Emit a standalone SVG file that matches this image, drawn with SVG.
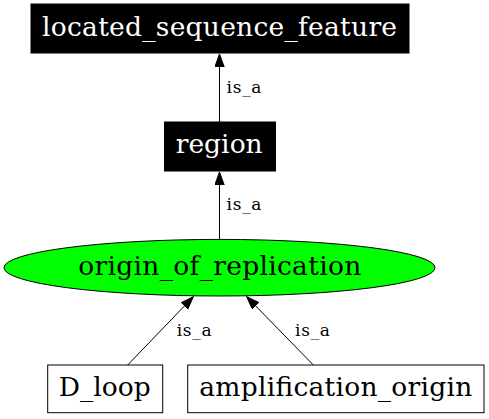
<svg xmlns="http://www.w3.org/2000/svg" width="489" height="419" viewBox="0 0 489 419">
<style>
.node text{font-family:"DejaVu Serif","Liberation Serif",serif;font-size:26.5px;}
.dark rect{fill:#000;stroke:#000;}
.dark text{fill:#fff;}
.light rect{fill:#fff;stroke:#000;}
.edges line{stroke:#000;stroke-width:1;}
.edges text{font-family:"DejaVu Serif","Liberation Serif",serif;font-size:17px;fill:#000;}
</style>
<defs>
<marker id="arr" markerUnits="userSpaceOnUse" markerWidth="14" markerHeight="11" refX="13" refY="4.7" orient="auto">
<path d="M0,0 L13,4.7 L0,9.4 Z" fill="#000" stroke="#000" stroke-width="1"/>
</marker>
</defs>
<rect width="489" height="419" fill="#fff"/>
<g class="edges">
<line x1="219.5" y1="122" x2="219.5" y2="54" marker-end="url(#arr)"/>
<text x="226.5" y="93" textLength="35" lengthAdjust="spacing">is_a</text>
<line x1="219.5" y1="240" x2="219.5" y2="172" marker-end="url(#arr)"/>
<text x="226.5" y="210" textLength="35" lengthAdjust="spacing">is_a</text>
<line x1="127.7" y1="365" x2="193.3" y2="296.7" marker-end="url(#arr)"/>
<text x="176.7" y="336" textLength="35" lengthAdjust="spacing">is_a</text>
<line x1="313.3" y1="365" x2="246.7" y2="296.7" marker-end="url(#arr)"/>
<text x="295" y="336" textLength="35" lengthAdjust="spacing">is_a</text>
</g>
<g id="located_sequence_feature" class="node dark">
<rect x="31" y="4" width="378" height="49"/>
<text x="42" y="36" textLength="355" lengthAdjust="spacing">located_sequence_feature</text>
</g>
<g id="region" class="node dark">
<rect x="164.5" y="122" width="111" height="49"/>
<text x="175.7" y="153" textLength="87" lengthAdjust="spacing">region</text>
</g>
<g id="origin_of_replication" class="node">
<ellipse cx="219.5" cy="267.7" rx="215.5" ry="28.3" fill="#00ff00" stroke="#000"/>
<text x="78.3" y="275" textLength="283" lengthAdjust="spacing">origin_of_replication</text>
</g>
<g id="D_loop" class="node light">
<rect x="47.7" y="365" width="115" height="47.7"/>
<text x="58.7" y="396" textLength="92" lengthAdjust="spacing">D_loop</text>
</g>
<g id="amplification_origin" class="node light">
<rect x="187.7" y="365" width="296.3" height="47.7"/>
<text x="199.3" y="396" textLength="273" lengthAdjust="spacing">amplification_origin</text>
</g>
</svg>
